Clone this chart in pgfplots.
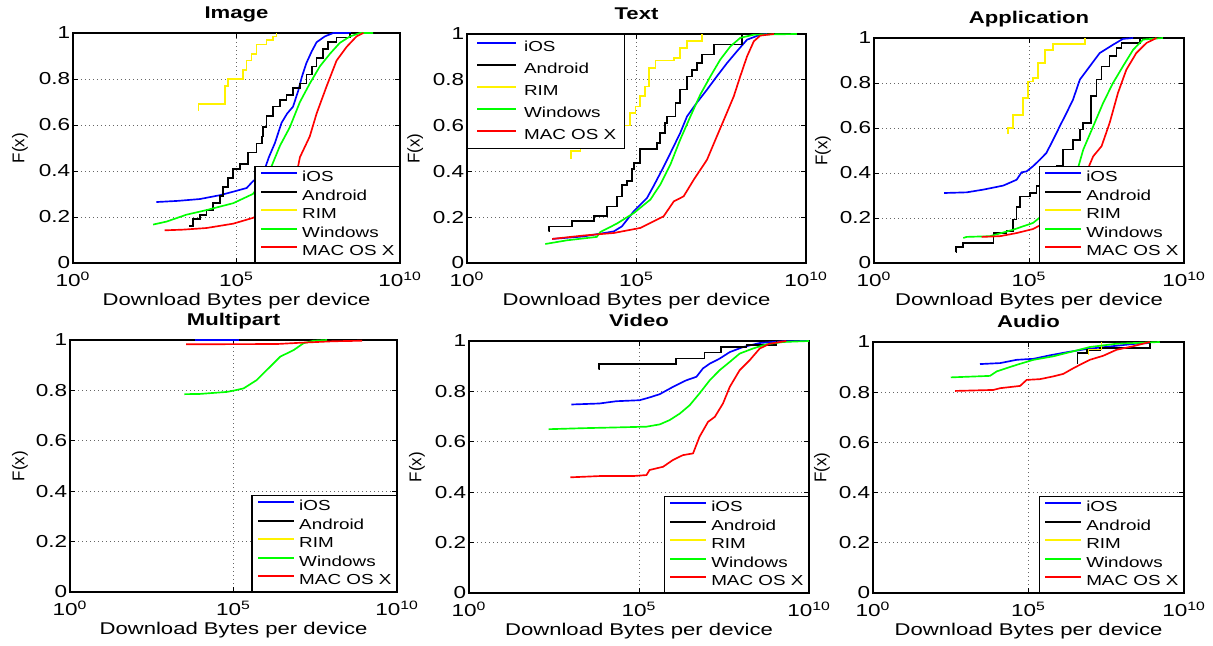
\documentclass[border=0pt]{standalone}
\usepackage{pgfplots}
\pgfplotsset{compat=1.18}
\usepackage{fontspec}
\setmainfont{Liberation Sans}[FakeStretch=1.3]
\newfontfamily\ylfont{Liberation Sans}
\newcommand\legendall[1][]{%
  \addlegendimage{blue}\addlegendentry{iOS}
  \addlegendimage{black}\addlegendentry{Android}
  \addlegendimage{yellow}\addlegendentry{RIM}
  \addlegendimage{green}\addlegendentry{Windows}
  \addlegendimage{red}\addlegendentry{MAC OS X#1}}
\pgfplotsset{
  cdf/.style={
    scale only axis, xmin=0, xmax=10, ymin=0, ymax=1,
    xtick={0,5,10}, xticklabels={10\textsuperscript{0},10\textsuperscript{5},10\textsuperscript{10}},
    ytick={0,0.2,0.4,0.6,0.8,1}, yticklabels={0,0.2,0.4,0.6,0.8,1},
    grid=major, grid style={dotted, black!60, line width=0.5pt},
    axis line style={line width=0.7pt},
    tick align=inside, tick style={black, line width=0.5pt}, major tick length=3pt,
    ticklabel style={font=\fontsize{10.4}{12}\selectfont},
    xticklabel style={anchor=base, yshift=-14.2pt},
    yticklabel style={inner xsep=1.5pt},
    xlabel={Download Bytes per device},
    xlabel style={font=\fontsize{10.2}{12}\selectfont, at={(axis description cs:0.5,0)}, anchor=base, yshift=-25.8pt},
    ylabel={F(x)},
    title style={font=\bfseries\fontsize{10.2}{12}\selectfont, at={(axis description cs:0.5,1)}, anchor=base, yshift=2.4pt},
    legend style={font=\fontsize{8.7}{10}\selectfont, draw=black, line width=0.7pt, fill=white,
      inner xsep=3pt, inner ysep=2.1pt, row sep=2.1pt, column sep=2.4pt,
      nodes={inner sep=0pt, text height=7pt, text depth=2pt}},
    legend cell align=left,
    legend image code/.code={\draw[#1, line width=1.3pt] (0pt,2.5pt) -- (21.6pt,2.5pt);},
    every axis plot/.append style={line width=1pt},
  },
  ylab/.style={ylabel style={font=\ylfont\fontsize{10.2}{12}\selectfont, at={(axis description cs:#1,0.5)}, anchor=center}},
  lse/.style={legend style={at={(1,0)}, anchor=south east}},
  lnw/.style={legend style={at={(0,1)}, anchor=north west, row sep=4.2pt, inner ysep=3.2pt, inner xsep=5pt, column sep=4.2pt},
    legend image code/.code={\draw[##1, line width=1.3pt] (0pt,2.5pt) -- (23.4pt,2.5pt);}},
}
\begin{document}
\begin{tikzpicture}
\path (0,0) rectangle (727.8pt,385.2pt);
% ---------------- Image
\begin{axis}[cdf, ylab=-0.162, lse, at={(43.8pt,227.4pt)}, anchor=south west, width=196.2pt, height=138pt, title={Image}]
\legendall
\addplot[blue, forget plot] coordinates {(2.55,.265)(3.2,.27)(3.88,.278)(4.5,.295)(4.9,.31)(5.31,.326)(5.5,.355)(5.82,.39)(5.99,.46)(6.17,.52)(6.38,.61)(6.55,.65)(6.73,.68)(6.89,.75)(7.0,.81)(7.14,.87)(7.3,.92)(7.45,.96)(7.7,.985)(7.96,1.0)(8.5,1.0)};
\addplot[black, const plot, forget plot] coordinates {(3.55,.16)(3.67,.19)(3.88,.21)(4.08,.23)(4.29,.26)(4.49,.29)(4.59,.33)(4.74,.37)(4.9,.41)(5.1,.43)(5.36,.48)(5.61,.52)(5.77,.55)(5.82,.59)(5.92,.64)(6.12,.68)(6.33,.71)(6.53,.73)(6.73,.76)(6.94,.78)(7.14,.82)(7.3,.855)(7.45,.89)(7.65,.93)(7.8,.96)(8.06,.98)(8.47,1.0)};
\addplot[yellow, const plot, forget plot] coordinates {(3.83,.664)(3.84,.69)(4.64,.77)(4.74,.8)(5.2,.84)(5.31,.88)(5.46,.91)(5.61,.95)(5.92,.97)(6.12,.985)(6.22,1.0)};
\addplot[green, forget plot] coordinates {(2.45,.167)(2.86,.18)(3.47,.21)(4.08,.23)(4.9,.26)(5.5,.30)(5.8,.355)(6.07,.42)(6.33,.51)(6.63,.59)(6.94,.70)(7.24,.78)(7.55,.855)(7.86,.91)(8.16,.957)(8.47,.985)(8.78,1.0)(9.18,1.0)};
\addplot[red, forget plot] coordinates {(2.8,.142)(3.37,.145)(4.08,.152)(4.9,.171)(5.5,.196)(6.0,.23)(6.5,.30)(6.84,.39)(6.94,.46)(7.24,.55)(7.45,.65)(7.76,.77)(8.06,.88)(8.37,.94)(8.67,.985)(8.88,1.0)};
\end{axis}
% ---------------- Text
\begin{axis}[cdf, ylab=-0.153, lnw, at={(280.2pt,227.4pt)}, anchor=south west, width=203.4pt, height=137.4pt, title={Text}]
\legendall[\hspace{7pt}]
\addplot[blue, forget plot] coordinates {(2.51,.105)(3.44,.116)(4.33,.138)(4.57,.16)(4.92,.226)(5.31,.284)(5.5,.335)(5.8,.42)(6.05,.495)(6.29,.568)(6.49,.64)(6.78,.70)(7.08,.757)(7.37,.815)(7.67,.873)(7.96,.924)(8.26,.975)(8.65,.997)(8.85,1)};
\addplot[black, const plot, forget plot] coordinates {(2.41,.138)(2.42,.16)(3.1,.182)(3.74,.204)(4.13,.247)(4.42,.29)(4.57,.342)(4.72,.357)(4.87,.41)(4.92,.437)(5.11,.498)(5.6,.524)(5.7,.568)(5.85,.611)(5.9,.64)(6.15,.699)(6.29,.757)(6.49,.815)(6.64,.844)(6.78,.873)(6.93,.91)(7.28,.954)(8.11,1.0)};
\addplot[yellow, const plot, forget plot] coordinates {(3.05,.459)(3.06,.488)(3.35,.5)(3.8,.53)(4.2,.56)(4.5,.6)(4.8,.655)(4.97,.684)(5.11,.728)(5.26,.771)(5.36,.852)(5.56,.884)(6.1,.895)(6.29,.939)(6.49,.968)(6.93,1.0)};
\addplot[green, forget plot] coordinates {(2.31,.083)(2.95,.099)(3.83,.114)(3.93,.135)(4.42,.172)(4.92,.218)(5.41,.277)(5.7,.342)(6.0,.43)(6.29,.539)(6.59,.64)(6.88,.735)(7.18,.815)(7.47,.888)(7.77,.946)(8.06,.983)(8.46,.997)(9.73,1)};
\addplot[red, forget plot] coordinates {(2.51,.105)(3.44,.12)(4.33,.131)(5.11,.153)(5.6,.189)(5.8,.204)(6.1,.269)(6.39,.291)(6.69,.364)(7.08,.451)(7.37,.553)(7.62,.64)(7.87,.728)(8.06,.815)(8.26,.902)(8.46,.968)(8.65,.993)(9.05,1)};
\end{axis}
% ---------------- Application
\begin{axis}[cdf, ylab=-0.165, lse, at={(524.4pt,227.4pt)}, anchor=south west, width=186pt, height=135pt, title={Application}]
\legendall
\addplot[blue, forget plot] coordinates {(2.26,.311)(2.99,.314)(3.52,.326)(4.17,.344)(4.6,.37)(4.76,.403)(4.92,.407)(5.13,.43)(5.35,.459)(5.56,.489)(5.78,.548)(5.99,.607)(6.21,.667)(6.42,.726)(6.64,.815)(6.96,.874)(7.28,.933)(7.71,.97)(8.03,.996)(8.36,1)};
\addplot[black, const plot, forget plot] coordinates {(2.63,.049)(2.64,.07)(2.88,.089)(3.85,.133)(4.27,.141)(4.49,.193)(4.6,.25)(4.7,.296)(5.03,.311)(5.24,.341)(5.5,.38)(5.89,.43)(6.1,.504)(6.42,.548)(6.64,.593)(6.75,.622)(7.01,.741)(7.18,.815)(7.34,.874)(7.6,.919)(7.82,.956)(7.98,.978)(8.57,1.0)};
\addplot[yellow, const plot, forget plot] coordinates {(4.3,.578)(4.32,.6)(4.49,.659)(4.81,.733)(4.97,.807)(5.13,.822)(5.3,.889)(5.51,.948)(5.78,.973)(6.8,1.0)};
\addplot[green, forget plot] coordinates {(2.88,.111)(2.99,.116)(3.74,.119)(4.49,.148)(5.13,.178)(5.6,.23)(6.1,.3)(6.58,.422)(6.75,.504)(7.07,.607)(7.39,.711)(7.71,.8)(8.03,.874)(8.36,.948)(8.68,.993)(9.32,1)};
\addplot[red, forget plot] coordinates {(3.47,.116)(4.06,.119)(4.6,.133)(5.13,.151)(5.8,.2)(6.4,.3)(6.91,.422)(7.07,.474)(7.34,.519)(7.6,.622)(7.87,.756)(8.14,.859)(8.46,.933)(8.79,.978)(9.11,1)};
\end{axis}
% ---------------- Multipart
\begin{axis}[cdf, ylab=-0.153, lse, at={(42pt,30pt)}, anchor=south west, width=196.2pt, height=151.2pt, title={Multipart}]
\legendall
\addplot[blue, forget plot] coordinates {(3.81,.999)(5.17,.999)};
\addplot[green, forget plot] coordinates {(3.5,.785)(3.98,.786)(4.8,.794)(5.0,.799)(5.31,.808)(5.71,.841)(6.12,.894)(6.43,.934)(6.84,.96)(7.14,.987)(7.45,.997)(7.86,1)};
\addplot[red, forget plot] coordinates {(3.55,.983)(6.33,.984)(7.04,.989)(8.06,.995)(8.93,.997)};
\end{axis}
% ---------------- Video
\begin{axis}[cdf, ylab=-0.153, lse, at={(281.4pt,29.4pt)}, anchor=south west, width=204pt, height=151.2pt, title={Video}]
\legendall
\addplot[blue, forget plot] coordinates {(3.01,.748)(3.84,.752)(4.33,.761)(5.02,.765)(5.31,.776)(5.61,.789)(6.0,.818)(6.39,.844)(6.69,.858)(6.88,.891)(7.08,.91)(7.37,.93)(7.67,.956)(8.06,.976)(8.55,.992)(9.24,.999)(10,1)};
\addplot[black, const plot, forget plot] coordinates {(3.82,.887)(3.83,.91)(6.08,.93)(6.93,.954)(7.42,.976)(8.16,.983)(9.04,1.0)};
\addplot[green, forget plot] coordinates {(2.34,.65)(3.35,.654)(4.33,.657)(5.22,.66)(5.61,.669)(5.9,.686)(6.2,.712)(6.49,.745)(6.78,.792)(7.08,.844)(7.37,.884)(7.67,.917)(7.96,.95)(8.35,.97)(8.75,.987)(9.24,.996)(10,1)};
\addplot[red, forget plot] coordinates {(2.98,.459)(3.84,.464)(4.82,.464)(5.22,.468)(5.31,.488)(5.71,.501)(6.0,.528)(6.29,.547)(6.59,.554)(6.78,.62)(7.03,.679)(7.23,.699)(7.47,.752)(7.67,.818)(7.96,.884)(8.25,.923)(8.55,.97)(8.84,.989)(9.33,1)};
\end{axis}
% ---------------- Audio
\begin{axis}[cdf, ylab=-0.164, lse, at={(523.8pt,29.4pt)}, anchor=south west, width=186.6pt, height=150.6pt, title={Audio}]
\legendall
\addplot[blue, forget plot] coordinates {(3.44,.912)(4.09,.916)(4.62,.929)(5.16,.933)(5.69,.947)(6.22,.959)(6.87,.972)(7.83,.985)(8.36,.992)(8.9,.996)};
\addplot[black, const plot, forget plot] coordinates {(6.57,.916)(6.58,.956)(6.87,.969)(7.29,.976)(8.9,1.0)};
\addplot[yellow, const plot, forget plot] coordinates {(6.92,.95)(6.93,.97)(7.35,1.0)};
\addplot[green, forget plot] coordinates {(2.5,.859)(3.76,.865)(3.98,.883)(4.62,.909)(5.16,.929)(5.8,.943)(6.44,.963)(6.97,.98)(7.83,.993)(9.22,1)};
\addplot[red, forget plot] coordinates {(2.64,.805)(3.87,.809)(4.09,.816)(4.73,.825)(4.94,.849)(5.37,.852)(5.8,.863)(6.12,.873)(6.39,.892)(6.65,.909)(6.97,.929)(7.4,.945)(7.83,.969)(8.36,.983)(8.9,1.0)};
\end{axis}
\end{tikzpicture}
\end{document}
